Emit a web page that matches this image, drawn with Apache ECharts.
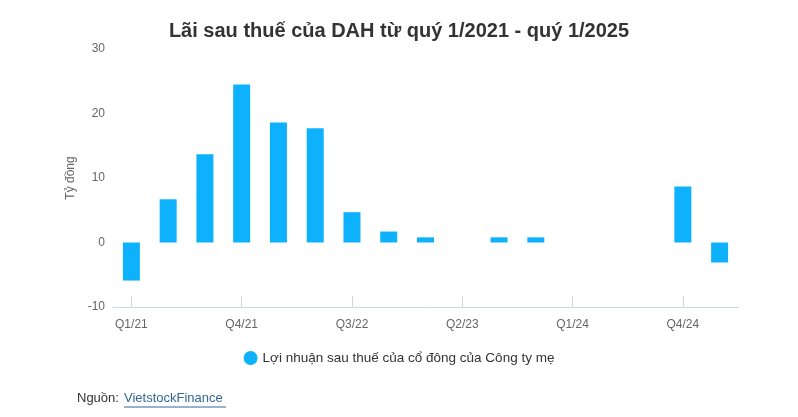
<!DOCTYPE html>
<html><head><meta charset="utf-8">
<script src="https://cdn.jsdelivr.net/npm/echarts@6/dist/echarts.min.js"></script>
<style>html,body{margin:0;padding:0;background:#fff}#c{width:798px;height:417px}</style>
</head><body><div id="c"></div>
<script>
var categories = ['Q1/21','Q2/21','Q3/21','Q4/21','Q1/22','Q2/22','Q3/22','Q4/22','Q1/23','Q2/23','Q3/23','Q4/23','Q1/24','Q2/24','Q3/24','Q4/24','Q1/25'];
var profit = [-5.9, 6.7, 13.7, 24.5, 18.6, 17.7, 4.7, 1.7, 0.8, 0, 0.8, 0.8, 0, 0, 0, 8.7, -3.1];
var seriesName = 'Lợi nhuận sau thuế của cổ đông của Công ty mẹ';
var chart = echarts.init(document.getElementById('c'));
var F = 'Liberation Sans, Arial, sans-serif';
chart.setOption({
  animation: false,
  textStyle: {fontFamily: F},
  title: {text: 'Lãi sau thuế của DAH từ quý 1/2021 - quý 1/2025', left: 'center', top: 16,
    textStyle: {fontSize: 20, fontWeight: 'bold', color: '#333', fontFamily: F}},
  legend: {top: 346, left: 'center', icon: 'circle', itemWidth: 14, itemHeight: 14, itemGap: 8,
    textStyle: {fontSize: 13.5, color: '#333', fontFamily: F}},
  grid: {left: 113, right: 60, top: 49, bottom: 110},
  xAxis: {type: 'category', data: categories,
    axisLine: {onZero: false, lineStyle: {color: '#ccd6eb'}},
    axisTick: {show: true, inside: true, alignWithLabel: true, interval: 2, length: 11, lineStyle: {color: '#ccd6eb'}},
    axisLabel: {interval: 2, color: '#666', fontSize: 12, margin: 12}},
  yAxis: {type: 'value', min: -10, max: 30, interval: 10, name: 'Tỷ đồng', nameLocation: 'middle', nameGap: 33,
    nameTextStyle: {color: '#666', fontSize: 12},
    splitLine: {show: false}, axisLine: {show: false}, axisTick: {show: false},
    axisLabel: {color: '#666', fontSize: 12}},
  series: [{name: seriesName, type: 'bar', data: profit, barWidth: 17,
    itemStyle: {color: '#0eb2fc', borderWidth: 0}}],
  graphic: [
    {type: 'text', left: 77, top: 392, style: {text: 'Nguồn: ', fill: '#333', font: '13px ' + F}},
    {type: 'text', left: 124, top: 392, style: {text: 'VietstockFinance', fill: '#336699', font: '13px ' + F}},
    {type: 'line', shape: {x1: 124, y1: 407, x2: 226, y2: 407}, style: {stroke: '#336699', lineWidth: 1}}
  ]
});
</script></body></html>
